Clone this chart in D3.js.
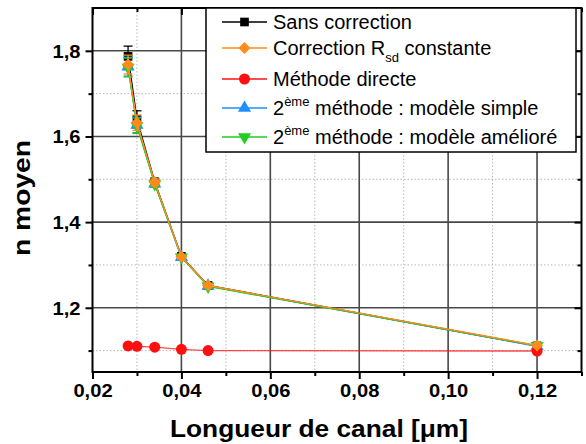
<!DOCTYPE html>
<html><head><meta charset="utf-8">
<script src="https://cdnjs.cloudflare.com/ajax/libs/d3/7.8.5/d3.min.js"></script>
<style>
html,body{margin:0;padding:0;background:#fff;}
svg{display:block;font-family:"Liberation Sans",Arial,Helvetica,sans-serif;}
</style></head>
<body><svg id="c" width="586" height="444"></svg>
<script>
// ---- data ----
const longueurs = [0.028, 0.030, 0.034, 0.040, 0.046, 0.120];
const sansCorrection = [1.787, 1.640, 1.494, 1.320, 1.252, 1.111];
const sansCorrectionErr = [0.024, 0.020, 0.008, 0.005, 0.004, 0.004];
const correctionRsd = [1.768, 1.632, 1.493, 1.319, 1.252, 1.112];
const correctionRsdErr = [0.022, 0.018, 0.008, 0.005, 0.004, 0.004];
const methodeDirecte = [1.111, 1.110, 1.108, 1.103, 1.100, 1.099];
const modeleSimple = [1.763, 1.627, 1.490, 1.318, 1.251, 1.110];
const modeleSimpleErr = [0.022, 0.018, 0.008, 0.005, 0.004, 0.004];
const modeleAmeliore = [1.761, 1.625, 1.489, 1.318, 1.250, 1.111];
const modeleAmelioreErr = [0.022, 0.018, 0.008, 0.005, 0.004, 0.004];
const xMajorTicks = [0.02, 0.04, 0.06, 0.08, 0.10, 0.12];
const xMinorTicks = [0.03, 0.05, 0.07, 0.09, 0.11, 0.13];
const yMajorTicks = [1.2, 1.4, 1.6, 1.8];
const yMinorTicks = [1.1, 1.3, 1.5, 1.7];
const xTitle = "Longueur de canal [\u03bcm]";
const yTitle = "n moyen";

// ---- layout ----
const L = 92.5, R = 581.5, T = 8, B = 372;
const x = d3.scaleLinear().domain([0.02, 0.13]).range([L, R]);
const y = d3.scaleLinear().domain([1.05, 1.9]).range([B, T]);
const fmt = (d, p) => d3.format("." + p + "f")(d).replace(".", ",");
const svg = d3.select("#c");

function stretch(sel, k) {
  sel.each(function () {
    const w = this.getComputedTextLength();
    this.setAttribute("textLength", w * k);
    this.setAttribute("lengthAdjust", "spacingAndGlyphs");
  });
}

// grid
const grid = svg.append("g");
grid.selectAll(".mnh").data(yMinorTicks).join("line")
  .attr("x1", L).attr("x2", R).attr("y1", d => y(d)).attr("y2", d => y(d))
  .attr("stroke", "#b8b8b8").attr("stroke-width", 1).attr("stroke-dasharray", "1.5,2");
grid.selectAll(".mnv").data(xMinorTicks.filter(d => d < 0.13)).join("line")
  .attr("y1", T).attr("y2", B).attr("x1", d => x(d)).attr("x2", d => x(d))
  .attr("stroke", "#b8b8b8").attr("stroke-width", 1).attr("stroke-dasharray", "1.5,2");
grid.selectAll(".mjh").data(yMajorTicks).join("line")
  .attr("x1", L).attr("x2", R).attr("y1", d => y(d)).attr("y2", d => y(d))
  .attr("stroke", "#484848").attr("stroke-width", 1.6);
grid.selectAll(".mjv").data(xMajorTicks.filter(d => d > 0.02)).join("line")
  .attr("y1", T).attr("y2", B).attr("x1", d => x(d)).attr("x2", d => x(d))
  .attr("stroke", "#484848").attr("stroke-width", 1.6);

// axes
function styleAxis(g) {
  g.select(".domain").remove();
  g.selectAll(".tick line").attr("stroke", "#000").attr("stroke-width", 2);
  g.selectAll("text").attr("fill", "#000").attr("font-weight", "bold").attr("font-size", "18px");
}
const axL = svg.append("g").attr("transform", `translate(${L},0)`)
  .call(d3.axisLeft(y).tickValues(yMajorTicks).tickSize(7).tickPadding(5).tickFormat(d => fmt(d, 1)));
styleAxis(axL);
axL.selectAll("text").attr("dy", "0.36em");
stretch(axL.selectAll("text"), 1.12);
const axLm = svg.append("g").attr("transform", `translate(${L},0)`)
  .call(d3.axisLeft(y).tickValues(yMinorTicks).tickSize(4).tickFormat(""));
styleAxis(axLm);
const axB = svg.append("g").attr("transform", `translate(0,${B})`)
  .call(d3.axisBottom(x).tickValues(xMajorTicks).tickSize(7).tickPadding(5).tickFormat(d => fmt(d, 2)));
styleAxis(axB);
stretch(axB.selectAll("text"), 1.12);
const axBm = svg.append("g").attr("transform", `translate(0,${B})`)
  .call(d3.axisBottom(x).tickValues(xMinorTicks).tickSize(4).tickFormat(""));
styleAxis(axBm);
// inner ticks on right and top
const axR = svg.append("g").attr("transform", `translate(${R},0)`)
  .call(d3.axisLeft(y).tickValues(yMajorTicks).tickSize(7).tickFormat(""));
styleAxis(axR);
const axRm = svg.append("g").attr("transform", `translate(${R},0)`)
  .call(d3.axisLeft(y).tickValues(yMinorTicks).tickSize(4).tickFormat(""));
styleAxis(axRm);
const axT = svg.append("g").attr("transform", `translate(0,${T})`)
  .call(d3.axisBottom(x).tickValues(xMajorTicks).tickSize(7).tickFormat(""));
styleAxis(axT);
const axTm = svg.append("g").attr("transform", `translate(0,${T})`)
  .call(d3.axisBottom(x).tickValues(xMinorTicks).tickSize(4).tickFormat(""));
styleAxis(axTm);

// series
const series = [
  {name: "sans", vals: sansCorrection, err: sansCorrectionErr, color: "#000000", shape: d3.symbolSquare, size: 75, rot: 0},
  {name: "simple", vals: modeleSimple, err: modeleSimpleErr, color: "#1f8fff", shape: d3.symbolTriangle, size: 75, rot: 0},
  {name: "ameliore", vals: modeleAmeliore, err: modeleAmelioreErr, color: "#22cc22", shape: d3.symbolTriangle, size: 75, rot: 180},
  {name: "directe", vals: methodeDirecte, err: null, color: "#ff1010", shape: d3.symbolCircle, size: 95, rot: 0},
  {name: "rsd", vals: correctionRsd, err: correctionRsdErr, color: "#ff8c1a", shape: d3.symbolSquare, size: 72, rot: 45}
];
const line = d3.line().x(d => x(d[0])).y(d => y(d[1]));
const plot = svg.append("g");
series.forEach(s => {
  const pts = longueurs.map((v, i) => [v, s.vals[i], s.err ? s.err[i] : 0]);
  const g = plot.append("g");
  g.append("path").datum(pts).attr("d", line).attr("fill", "none")
    .attr("stroke", s.color).attr("stroke-width", s.name === "directe" ? 1.3 : 1.4)
    .attr("stroke-opacity", s.name === "directe" ? 0.75 : 1);
  if (s.err) {
    const eg = g.selectAll(".e").data(pts).join("g").attr("stroke", s.color).attr("stroke-width", 1.3);
    eg.append("line").attr("x1", d => x(d[0])).attr("x2", d => x(d[0]))
      .attr("y1", d => y(d[1] - d[2])).attr("y2", d => y(d[1] + d[2]));
    eg.append("line").attr("x1", d => x(d[0]) - 4.5).attr("x2", d => x(d[0]) + 4.5)
      .attr("y1", d => y(d[1] + d[2])).attr("y2", d => y(d[1] + d[2]));
    eg.append("line").attr("x1", d => x(d[0]) - 4.5).attr("x2", d => x(d[0]) + 4.5)
      .attr("y1", d => y(d[1] - d[2])).attr("y2", d => y(d[1] - d[2]));
  }
  g.selectAll(".m").data(pts).join("path")
    .attr("d", d3.symbol().type(s.shape).size(s.size))
    .attr("transform", d => `translate(${x(d[0])},${y(d[1])}) rotate(${s.rot})`)
    .attr("fill", s.color);
});

// frame
svg.append("rect").attr("x", L).attr("y", T).attr("width", R - L).attr("height", B - T)
  .attr("fill", "none").attr("stroke", "#000").attr("stroke-width", 2);

// legend
const lg = svg.append("g");
lg.append("rect").attr("x", 206).attr("y", T).attr("width", 370).attr("height", 144)
  .attr("fill", "#fff").attr("stroke", "#000").attr("stroke-width", 1.5);
const legendRows = [
  {s: series[0], y: 22, parts: [["Sans correction", 0]]},
  {s: series[4], y: 48, parts: [["Correction R", 0], ["sd", 1], [" constante", 0]]},
  {s: series[3], y: 79, parts: [["M\u00e9thode directe", 0]]},
  {s: series[1], y: 108, parts: [["2", 0], ["\u00e8me", 2], [" m\u00e9thode : mod\u00e8le simple", 0]]},
  {s: series[2], y: 137, parts: [["2", 0], ["\u00e8me", 2], [" m\u00e9thode : mod\u00e8le am\u00e9lior\u00e9", 0]]}
];
legendRows.forEach(r => {
  lg.append("line").attr("x1", 222).attr("x2", 267).attr("y1", r.y).attr("y2", r.y)
    .attr("stroke", r.s.color).attr("stroke-width", 1.3);
  lg.append("path").attr("d", d3.symbol().type(r.s.shape).size(r.s.size))
    .attr("transform", `translate(244.5,${r.y}) rotate(${r.s.rot})`).attr("fill", r.s.color);
  const t = lg.append("text").attr("x", 273).attr("y", r.y + 7).attr("font-size", "20px").attr("fill", "#000");
  r.parts.forEach(p => {
    const ts = t.append("tspan").text(p[0]);
    if (p[1] === 1) ts.attr("font-size", "13px").attr("dy", 7);
    if (p[1] === 2) ts.attr("font-size", "13px").attr("dy", -9);
    if (p[1] === 0 && p !== r.parts[0]) {
      const prev = r.parts[r.parts.indexOf(p) - 1];
      if (prev[1] === 1) ts.attr("dy", -7);
      if (prev[1] === 2) ts.attr("dy", 9);
    }
  });
});

// titles
const xt = svg.append("text").attr("x", 319).attr("y", 437).attr("text-anchor", "middle")
  .attr("font-weight", "bold").attr("font-size", "24px").text(xTitle)
  .attr("textLength", 298).attr("lengthAdjust", "spacingAndGlyphs");
const yt = svg.append("text").attr("transform", "translate(30,198) rotate(-90)").attr("text-anchor", "middle")
  .attr("font-weight", "bold").attr("font-size", "24px").text(yTitle)
  .attr("textLength", 116).attr("lengthAdjust", "spacingAndGlyphs");
</script></body></html>
